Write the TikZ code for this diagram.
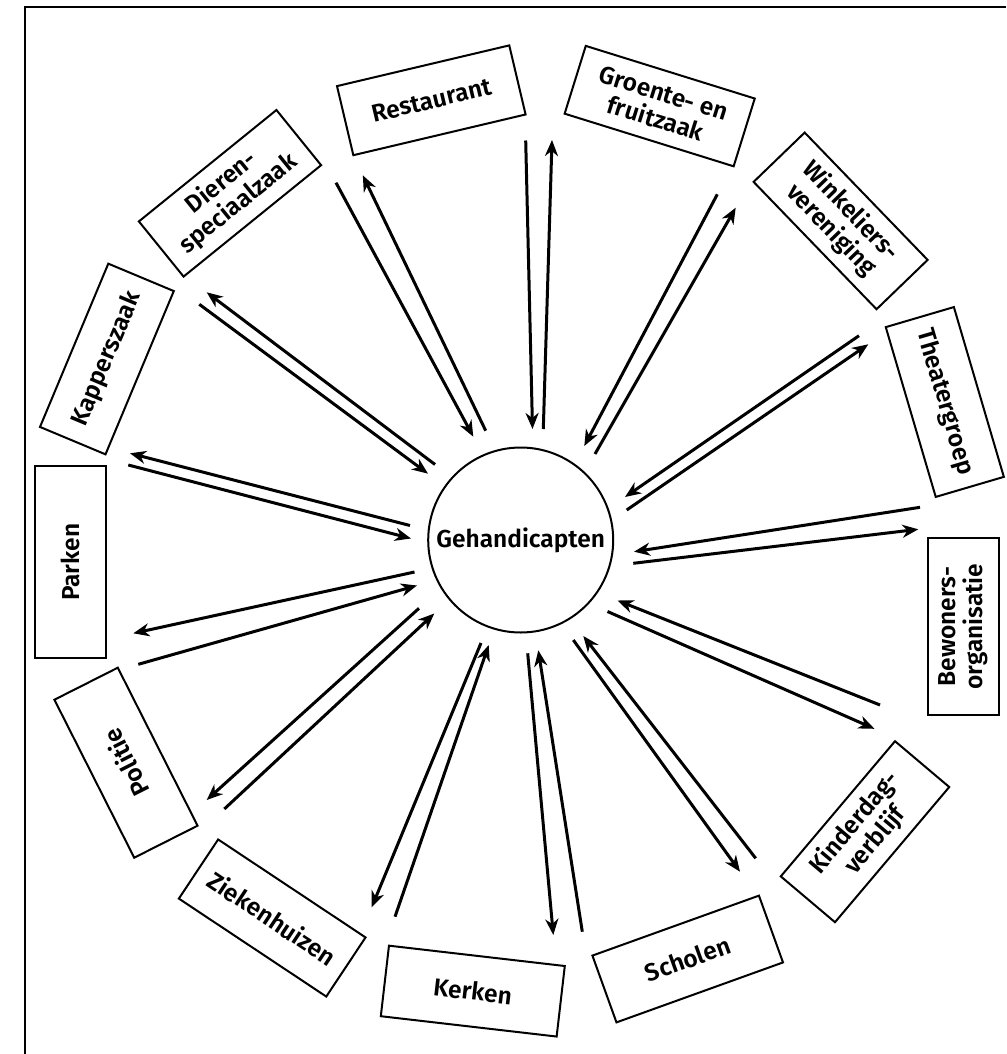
\documentclass[tikz,border=0pt]{standalone}
\usepackage{fontspec}
\setmainfont{Fira Sans}[BoldFont={Fira Sans SemiBold}]
\usetikzlibrary{arrows.meta}
\begin{document}
\begin{tikzpicture}[x=1pt,y=-1pt,
  lbl/.style={font=\bfseries\fontsize{24.5}{27}\selectfont, align=center},
  box/.style={lbl, draw, line width=2pt, minimum width=177pt, minimum height=71pt, inner sep=0pt},
  arr/.style={line width=3pt, -{Stealth[length=16pt,width=13pt,inset=5pt]}},
  frame/.style={line width=2.5pt}]
\useasboundingbox (0,0) rectangle (1006,1054);
\draw[frame] (1006,7) -- (25,7) -- (25,1054);

% centre
\node[draw, circle, line width=2pt, minimum size=185pt, inner sep=0pt,
      font=\bfseries\fontsize{24.5}{27}\selectfont] (g) at (520.7,540) {Gehandicapten};

% boxes
\node[box, rotate=13.3]  (rest) at (431.3,100.3) {Restaurant};
\node[box, rotate=39]    (dier) at (230,193.3) {Dieren-\\speciaalzaak};
\node[box, rotate=-17.3] (groe) at (659.7,106.1) {Groente- en\\fruitzaak};
\node[box, rotate=-46]   (wink) at (840.6,220.9) {Winkeliers-\\vereniging};
\node[box, rotate=-73.6] (thea) at (944.8,402) {Theatergroep};
\node[box, rotate=90]    (bewo) at (963.5,626.5) {Bewoners-\\organisatie};
\node[box, rotate=49.8]  (kind) at (865,831.7) {Kinderdag-\\verblijf};
\node[box, rotate=19.8]  (scho) at (687.7,959) {Scholen};
\node[box, rotate=-6.6]  (kerk) at (472.8,991.1) {Kerken};
\node[box, rotate=-33.6] (ziek) at (272.2,918) {Ziekenhuizen};
\node[box, rotate=116.8] (poli) at (126,762.7) {Politie};
\node[box, rotate=90, minimum width=192pt] (park) at (70.2,562.2) {Parken};
\node[box, rotate=67.3]  (kapp) at (106.9,359) {Kapperszaak};

% arrow end points
\coordinate (a1o) at (336,182.7);   \coordinate (a1i) at (473.3,436.7);
\coordinate (b1i) at (485.7,430.7); \coordinate (b1o) at (362.8,175.3);
\coordinate (a2o) at (525.7,140.5); \coordinate (a2i) at (532.5,429);
\coordinate (b2i) at (543.3,429);   \coordinate (b2o) at (552,140);
\coordinate (a3o) at (717.3,194.3); \coordinate (a3i) at (584.3,446);
\coordinate (b3i) at (595,454);     \coordinate (b3o) at (735.7,207.7);
\coordinate (a4o) at (859,335.7);   \coordinate (a4i) at (625,497);
\coordinate (b4i) at (626.7,510);   \coordinate (b4o) at (868.3,344.3);
\coordinate (a5o) at (920,507.3);   \coordinate (a5i) at (634,551.7);
\coordinate (b5i) at (633.3,563.3); \coordinate (b5o) at (918.3,529.3);
\coordinate (a6o) at (880,705);     \coordinate (a6i) at (617.5,600.5);
\coordinate (b6i) at (607.5,611.5); \coordinate (b6o) at (874.5,728.8);
\coordinate (a7i) at (573.3,640);   \coordinate (a7o) at (740,871.7);
\coordinate (b7o) at (755.7,858.3); \coordinate (b7i) at (583.3,636);
\coordinate (a8i) at (527.7,653.3); \coordinate (a8o) at (553.3,935);
\coordinate (b8o) at (582.3,931.7); \coordinate (b8i) at (538.3,650.3);
\coordinate (a9i) at (481,643);     \coordinate (a9o) at (371.7,907.3);
\coordinate (b9o) at (395,916.7);   \coordinate (b9i) at (488.7,645);
\coordinate (a10i) at (419,608.3);  \coordinate (a10o) at (206.7,800);
\coordinate (b10o) at (224.3,809);  \coordinate (b10i) at (434.3,613.5);
\coordinate (a11i) at (414.5,572);  \coordinate (a11o) at (133.3,633.3);
\coordinate (b11o) at (138.3,664.3); \coordinate (b11i) at (417,585.5);
\coordinate (a12i) at (410,525.5);  \coordinate (a12o) at (130,453.3);
\coordinate (b12o) at (128.3,465);  \coordinate (b12i) at (411,538.5);
\coordinate (a13i) at (435,464.5);  \coordinate (a13o) at (206.7,292.3);
\coordinate (b13o) at (199.3,304.3); \coordinate (b13i) at (428,473.7);

% arrows
\draw[arr] (a1o) -- (a1i);   \draw[arr] (b1i) -- (b1o);
\draw[arr] (a2o) -- (a2i);   \draw[arr] (b2i) -- (b2o);
\draw[arr] (a3o) -- (a3i);   \draw[arr] (b3i) -- (b3o);
\draw[arr] (a4o) -- (a4i);   \draw[arr] (b4i) -- (b4o);
\draw[arr] (a5o) -- (a5i);   \draw[arr] (b5i) -- (b5o);
\draw[arr] (a6o) -- (a6i);   \draw[arr] (b6i) -- (b6o);
\draw[arr] (a7i) -- (a7o);   \draw[arr] (b7o) -- (b7i);
\draw[arr] (a8i) -- (a8o);   \draw[arr] (b8o) -- (b8i);
\draw[arr] (a9i) -- (a9o);   \draw[arr] (b9o) -- (b9i);
\draw[arr] (a10i) -- (a10o); \draw[arr] (b10o) -- (b10i);
\draw[arr] (a11i) -- (a11o); \draw[arr] (b11o) -- (b11i);
\draw[arr] (a12i) -- (a12o); \draw[arr] (b12o) -- (b12i);
\draw[arr] (a13i) -- (a13o); \draw[arr] (b13o) -- (b13i);
\end{tikzpicture}
\end{document}
